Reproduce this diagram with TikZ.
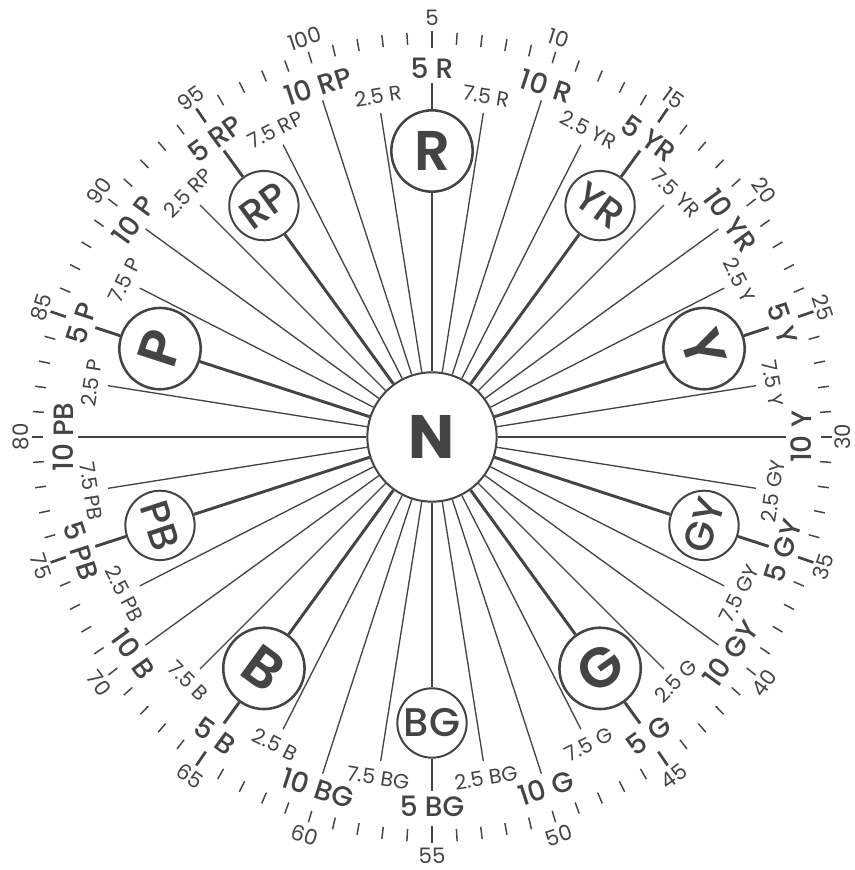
\documentclass[tikz,border=0pt]{standalone}
\usepackage{fontspec}
\setmainfont{Poppins}
\newfontfamily\heavyfont{Poppins SemiBold}
\newfontfamily\semifont{Poppins Medium}
\definecolor{ink}{RGB}{68,68,68}
\tikzset{every picture/.style={line width=0.75pt}}
\tikzset{
  neutral/.style={circle, draw=ink, line width=1.5pt, minimum size=97pt, inner sep=0pt, text=ink, font=\fontsize{46}{46}\selectfont\bfseries},
  major/.style={circle, draw=ink, line width=1.9pt, minimum size=61pt, inner sep=0pt, text=ink, font=\heavyfont\fontsize{42}{42}\selectfont},
  minor/.style={circle, draw=ink, line width=1.5pt, minimum size=52pt, inner sep=0pt, text=ink, font=\semifont\fontsize{30}{30}\selectfont},
  spoke/.style={draw=ink, line width=1pt},
  spokebold/.style={draw=ink, line width=2.2pt},
  tickmark/.style={draw=ink, line width=1.1pt},
  tickbold/.style={draw=ink, line width=2pt},
  biglabel/.style={text=ink, inner sep=0pt, font=\semifont\fontsize{21}{21}\selectfont},
  smalllabel/.style={text=ink, inner sep=0pt, font=\fontsize{15.5}{15.5}\selectfont},
  numlabel/.style={text=ink, inner sep=0pt, font=\fontsize{16}{16}\selectfont},
}
\begin{document}
\begin{tikzpicture}[x=0.75pt,y=0.75pt]
\useasboundingbox (-432,-433) rectangle (423,437);

%Shape: Circle [neutral centre]
\node [neutral] (N) at (0,0) {N};

%Shape: Circle [hue circles]
\node [major] (R) at (90:286) {R};
\node [minor, rotate=-36] (YR) at (54:286) {YR};
\node [major, rotate=-72] (Y) at (18:286) {Y};
\node [minor, rotate=72] (GY) at (-18:286) {GY};
\node [major, rotate=36] (G) at (-54:286) {G};
\node [minor] (BG) at (-90:286) {BG};
\node [major, rotate=-36] (B) at (-126:286) {B};
\node [minor, rotate=-72] (PB) at (-162:286) {PB};
\node [major, rotate=72] (P) at (162:286) {P};
\node [minor, rotate=36] (RP) at (126:286) {RP};

%Straight Lines [spokes] and Text Nodes [hue names]
\foreach \hname [count=\k from 0] in {R,YR,Y,GY,G,BG,B,PB,P,RP}{
  \foreach \hval [count=\j from 0] in {2.5,5,7.5,10}{
    \pgfmathtruncatemacro{\i}{4*\k+\j+1}
    \pgfmathsetmacro{\a}{108-9*\i}
    \pgfmathsetmacro{\rot}{ifthenelse(and(\i>=12,\i<32),\a+90,\a-90)}
    \ifodd\j\relax
      \coordinate (sp\i) at (\a:354);
      \node [biglabel, rotate=\rot] (lab\i) at (\a:369) {\hval~\hname};
    \else
      \coordinate (sp\i) at (\a:328);
      \node [smalllabel, rotate=\rot] (lab\i) at (\a:345) {\hval~\hname};
    \fi
    \ifnum\j=1\relax
      \draw [spokebold] (N) -- (\hname);
      \draw [spokebold] (\hname) -- (sp\i);
    \else
      \draw [spoke] (N) -- (sp\i);
    \fi
  }
}

%Straight Lines [scale ticks]
\foreach \m in {1,...,100}{
  \pgfmathsetmacro{\a}{108-3.6*\m}
  \pgfmathtruncatemacro{\isfive}{mod(\m,10)==5}
  \ifnum\isfive=1\relax
    \draw [tickbold] (\a:385 and 389) -- (\a:401 and 406);
  \else
    \draw [tickmark] (\a:389 and 393) -- (\a:400 and 405);
  \fi
}

% Text Node [scale numbers]
\foreach \n in {1,...,20}{
  \pgfmathtruncatemacro{\nv}{5*\n}
  \pgfmathsetmacro{\a}{108-18*\n}
  \pgfmathsetmacro{\rot}{ifthenelse(and(\n>=6,\n<16),\a+90,\a-90)}
  \node [numlabel, rotate=\rot] (num\nv) at (\a:411 and 419) {\nv};
}

\end{tikzpicture}
\end{document}
